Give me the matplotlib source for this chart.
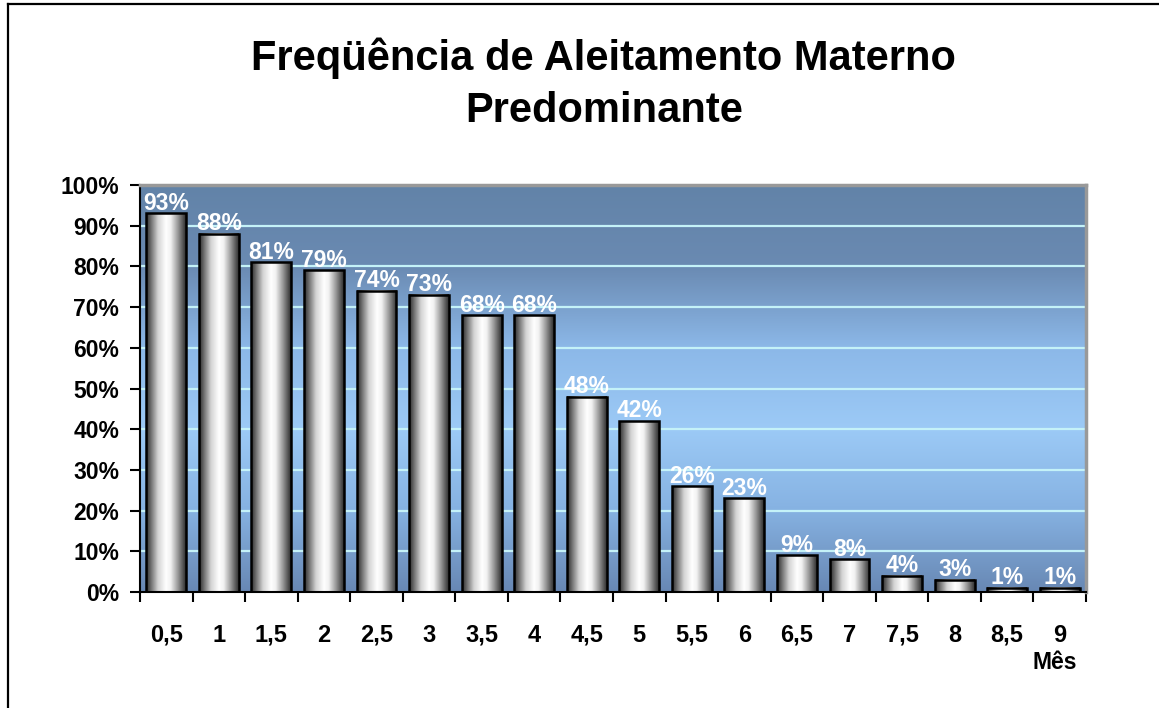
import numpy as np
import matplotlib.pyplot as plt
from matplotlib.colors import LinearSegmentedColormap
from matplotlib.lines import Line2D

# dados
meses = ["0,5", "1", "1,5", "2", "2,5", "3", "3,5", "4", "4,5",
         "5", "5,5", "6", "6,5", "7", "7,5", "8", "8,5", "9"]
freq = [93, 88, 81, 79, 74, 73, 68, 68, 48, 42, 26, 23, 9, 8, 4, 3, 1, 1]

plt.rcParams['font.family'] = ['Liberation Sans', 'DejaVu Sans']
plt.rcParams['font.weight'] = 'bold'

fig = plt.figure(figsize=(11.59, 7.08), dpi=100)
ax = fig.add_axes([0.1208, 0.1638, 0.8162, 0.5749])

# fundo em degradê
fundo = LinearSegmentedColormap.from_list(
    "fundo", ["#6888b4", "#86b2e2", "#9ccaf6", "#8cb8e8", "#6a8ab2", "#6283a8"])
grad = np.linspace(0, 1, 256).reshape(-1, 1)
ax.imshow(grad, cmap=fundo, aspect='auto', extent=(0, 1, 0, 1),
          transform=ax.transAxes, origin='lower', zorder=0)

x = np.arange(len(meses))
bars = ax.bar(x, freq, width=0.76, facecolor='none', edgecolor='black',
              linewidth=1.8, zorder=3)

# barras com efeito cilíndrico
cil = LinearSegmentedColormap.from_list(
    "cil", [(0, "#2a2a2a"), (0.12, "#6e6e6e"), (0.3, "#d4d4d4"),
            (0.5, "#ffffff"), (0.62, "#f2f2f2"), (0.8, "#9a9a9a"), (1, "#2e2e2e")])
hgrad = np.linspace(0, 1, 128).reshape(1, -1)
for b in bars:
    ax.imshow(hgrad, cmap=cil, aspect='auto', zorder=2,
              extent=(b.get_x(), b.get_x() + b.get_width(), 0, b.get_height()))

ax.bar_label(bars, labels=[f"{v}%" for v in freq], color='white',
             fontsize=16.5, fontweight='bold', padding=-1, zorder=4)

ax.set_xlim(-0.5, len(meses) - 0.5)
ax.set_ylim(0, 100)
ax.set_yticks(np.arange(0, 101, 10))
ax.set_yticklabels([f"{v}%" for v in range(0, 101, 10)])
for v in range(10, 100, 10):
    ax.axhline(v, color='#c4f2f8', linewidth=1.6, zorder=1)

ax.set_xticks(x)
ax.set_xticklabels(meses)
ax.set_xticks(np.arange(-0.5, len(meses), 1), minor=True)
ax.tick_params(axis='x', which='major', length=0, pad=23, labelsize=17)
ax.tick_params(axis='x', which='minor', length=7, width=1.5, direction='out')
ax.tick_params(axis='y', length=7, width=1.5, pad=8, labelsize=16.5)

ax.spines['left'].set_linewidth(1.5)
ax.spines['bottom'].set_linewidth(1.5)
ax.spines['top'].set_color('#999999')
ax.spines['right'].set_color('#999999')
ax.spines['top'].set_linewidth(2.5)
ax.spines['right'].set_linewidth(2.5)

ax.text(0.99, -0.172, "Mês", transform=ax.transAxes, ha='right', va='center',
        fontsize=16.5, fontweight='bold')

fig.text(0.521, 0.881, "Freqüência de Aleitamento Materno\nPredominante",
         ha='center', va='center', fontsize=30, fontweight='bold',
         linespacing=1.4)

# moldura (só esquerda e topo aparecem)
fig.add_artist(Line2D([8 / 1159, 8 / 1159], [0, 1 - 4 / 708],
                      transform=fig.transFigure, color='black', linewidth=1.6))
fig.add_artist(Line2D([8 / 1159, 1], [1 - 4 / 708, 1 - 4 / 708],
                      transform=fig.transFigure, color='black', linewidth=1.6))

fig.savefig("out.png", dpi=100)
